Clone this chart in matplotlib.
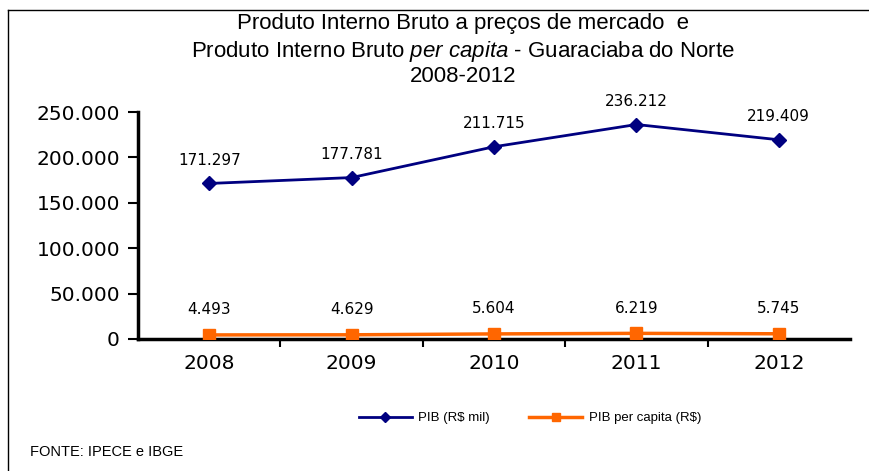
import matplotlib
matplotlib.use('Agg')
import matplotlib.pyplot as plt
from matplotlib.lines import Line2D
from matplotlib import rcParams

rcParams['mathtext.fontset'] = 'custom'
rcParams['mathtext.rm'] = 'Liberation Sans'
rcParams['mathtext.it'] = 'Liberation Sans:italic'

# data
years = ['2008', '2009', '2010', '2011', '2012']
pib = [171297, 177781, 211715, 236212, 219409]
pib_per_capita = [4493, 4629, 5604, 6219, 5745]
pib_labels = ['171.297', '177.781', '211.715', '236.212', '219.409']
pc_labels = ['4.493', '4.629', '5.604', '6.219', '5.745']
y_ticks = [0, 50000, 100000, 150000, 200000, 250000]
y_ticklabels = ['0', '50.000', '100.000', '150.000', '200.000', '250.000']

navy = '#000080'
orange = '#FF6600'

fig = plt.figure(figsize=(8.7, 4.71), dpi=100)
ax = fig.add_axes([138/870, 1 - 339/471, (850 - 138)/870, (339 - 112)/471])

x = list(range(len(years)))
ax.plot(x, pib, color=navy, lw=2, marker='D', ms=7, zorder=3)
ax.plot(x, pib_per_capita, color=orange, lw=2.5, marker='s', ms=9, zorder=3)

for xi, v, lab in zip(x, pib, pib_labels):
    ax.annotate(lab, (xi, v), xytext=(0, 23), textcoords='offset pixels',
                ha='center', va='center', fontsize=11, family='DejaVu Sans')
for xi, v, lab in zip(x, pib_per_capita, pc_labels):
    ax.annotate(lab, (xi, v), xytext=(0, 25), textcoords='offset pixels',
                ha='center', va='center', fontsize=11, family='DejaVu Sans')

ax.set_xlim(-0.5, 4.5)
ax.set_ylim(0, 250000)
ax.set_yticks(y_ticks)
ax.set_yticklabels(y_ticklabels, fontsize=14.5, family='DejaVu Sans')
ax.set_xticks(x)
ax.set_xticklabels(years, fontsize=14.5, family='DejaVu Sans')
ax.set_xticks([0.5, 1.5, 2.5, 3.5], minor=True)
ax.tick_params(axis='x', which='major', length=0, pad=11)
ax.tick_params(axis='x', which='minor', length=6, width=1.5, direction='out')
ax.tick_params(axis='y', length=7, width=1.5, direction='out', pad=6)
for s in ['top', 'right']:
    ax.spines[s].set_visible(False)
for s in ['left', 'bottom']:
    ax.spines[s].set_linewidth(2.5)

# title
title_font = dict(ha='center', va='center', fontsize=16, family='Liberation Sans')
fig.text(463/870, 1 - 23/471, 'Produto Interno Bruto a preços de mercado  e',
         **title_font)
fig.text(463/870, 1 - 51/471,
         r'Produto Interno Bruto $\it{per\ capita}$ - Guaraciaba do Norte',
         **title_font)
fig.text(463/870, 1 - 76/471, '2008-2012', **title_font)

# legend
handles = [Line2D([], [], color=navy, lw=2, marker='D', ms=5),
           Line2D([], [], color=orange, lw=2.5, marker='s', ms=6)]
fig.legend(handles, ['PIB (R$ mil)', 'PIB per capita (R$)'], ncol=2,
           loc='center', bbox_to_anchor=(530/870, 1 - 418/471), frameon=False,
           prop={'family': 'Liberation Sans', 'size': 9.5},
           handlelength=4, columnspacing=3.0, handletextpad=0.5)

fig.text(30/870, 1 - 452/471, 'FONTE: IPECE e IBGE', ha='left', va='center',
         fontsize=10.5, family='Liberation Sans')

# outer frame (top and left only)
fig.add_artist(Line2D([8/870, 8/870], [0, 1 - 10/471], color='black', lw=1,
                      transform=fig.transFigure))
fig.add_artist(Line2D([8/870, 1], [1 - 10/471, 1 - 10/471], color='black', lw=1,
                      transform=fig.transFigure))

fig.savefig('out.png', dpi=100)
